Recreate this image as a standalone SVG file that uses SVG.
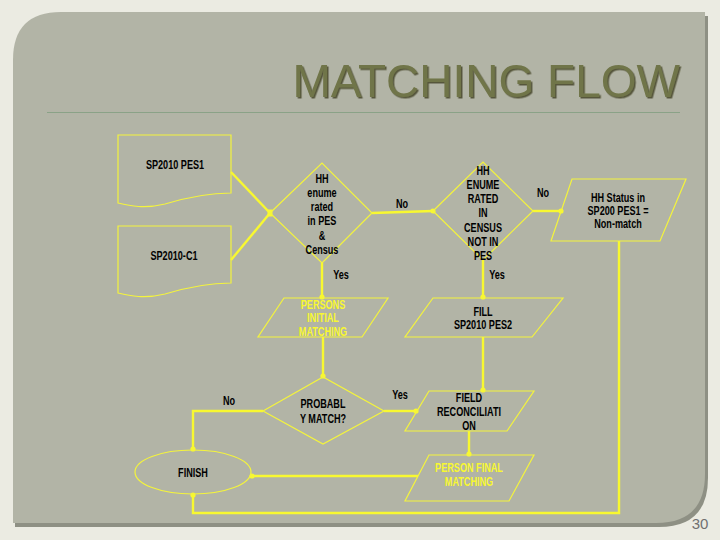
<svg xmlns="http://www.w3.org/2000/svg" width="720" height="540" viewBox="0 0 720 540">
<defs>
<style>
.shape{fill:none;stroke:#f4f43c;stroke-width:1.2}
.conn{fill:none;stroke:#f8f830;stroke-width:2.4;stroke-linejoin:miter}
.t{font-family:'Liberation Sans',Arial,sans-serif;font-weight:bold;font-size:13px;fill:#000;text-anchor:middle}
.y{fill:#f8f830}
</style>
<filter id="sh" x="-5%" y="-20%" width="110%" height="140%">
<feDropShadow dx="1.5" dy="1.5" stdDeviation="0.6" flood-color="#3e4024" flood-opacity="0.8"/>
</filter>
<marker id="dot" viewBox="-3 -3 6 6" markerWidth="6" markerHeight="6" markerUnits="userSpaceOnUse" orient="auto">
<circle cx="0" cy="0" r="2.6" fill="#f8f830"/>
</marker>
</defs>
<rect x="0" y="0" width="720" height="540" fill="#ebebe2"/>
<path d="M15,62 Q15,16 61,16 H708 V478 Q708,527 659,527 H15 Z" fill="#8e9084"/>
<path d="M13,60 Q13,12 61,12 H705 V474 Q705,523 656,523 H13 Z" fill="#b2b4a6"/>
<text x="680" y="97" font-family="'Liberation Sans',Arial,sans-serif" font-size="46" fill="#707548" text-anchor="end" filter="url(#sh)">MATCHING FLOW</text>
<line x1="47" y1="112.5" x2="680" y2="112.5" stroke="#8aa287" stroke-width="1"/>
<text x="700" y="529" font-family="'Liberation Sans',Arial,sans-serif" font-size="15" fill="#707070" text-anchor="middle">30</text>

<g id="connectors">
<path class="conn" d="M231,172 L270,213"/>
<path class="conn" d="M231,260 L270,213"/>
<rect x="267.5" y="209.5" width="5" height="7" fill="#f8f830"/>
<path class="conn" d="M372,213 L433,211" marker-end="url(#dot)"/>
<path class="conn" d="M533,211 L561,211" marker-end="url(#dot)"/>
<path class="conn" d="M322,263 V297" marker-end="url(#dot)"/>
<path class="conn" d="M483,260 V297" marker-end="url(#dot)"/>
<path class="conn" d="M323,337 V376" marker-end="url(#dot)"/>
<path class="conn" d="M483,337 V390" marker-end="url(#dot)"/>
<path class="conn" d="M384,411 H416" marker-end="url(#dot)"/>
<path class="conn" d="M469,431 V454" marker-end="url(#dot)"/>
<path class="conn" d="M263,411 H193 V449" marker-end="url(#dot)"/>
<path class="conn" d="M418,476 H252" marker-end="url(#dot)"/>
<path class="conn" d="M619,241 V513 H193 V495" marker-end="url(#dot)"/>
<g transform="translate(402,0) scale(0.7,1) translate(-402,0)"><text class="t" x="402" y="208">No</text></g>
<g transform="translate(543,0) scale(0.7,1) translate(-543,0)"><text class="t" x="543" y="197">No</text></g>
<g transform="translate(341,0) scale(0.7,1) translate(-341,0)"><text class="t" x="341" y="279">Yes</text></g>
<g transform="translate(497,0) scale(0.7,1) translate(-497,0)"><text class="t" x="497" y="279">Yes</text></g>
<g transform="translate(229,0) scale(0.7,1) translate(-229,0)"><text class="t" x="229" y="405">No</text></g>
<g transform="translate(400,0) scale(0.7,1) translate(-400,0)"><text class="t" x="400" y="399">Yes</text></g>
</g>

<g id="doc1">
<path class="shape" d="M118,135 H231 V193 C205,193 185,198 165,204 C145,209 130,206 118,203 Z"/>
<g transform="translate(175,0) scale(0.7,1) translate(-175,0)"><text class="t" x="175" y="169">SP2010 PES1</text></g>
</g>
<g id="doc2">
<path class="shape" d="M118,226 H231 V283 C205,283 185,288 165,294 C145,299 130,296 118,293 Z"/>
<g transform="translate(174,0) scale(0.7,1) translate(-174,0)"><text class="t" x="174" y="260">SP2010-C1</text></g>
</g>
<g id="dec1">
<path class="shape" d="M270,213 L322,163 L372,213 L322,263 Z"/>
<g transform="translate(322,0) scale(0.7,1) translate(-322,0)">
<text class="t" x="322" y="183">HH</text>
<text class="t" x="322" y="197">enume</text>
<text class="t" x="322" y="211">rated</text>
<text class="t" x="322" y="225">in PES</text>
<text class="t" x="322" y="240">&amp;</text>
<text class="t" x="322" y="254">Census</text>
</g>
</g>
<g id="dec2">
<path class="shape" d="M433,211 L483,162 L533,211 L483,260 Z"/>
<g transform="translate(483,0) scale(0.7,1) translate(-483,0)">
<text class="t" x="483" y="175">HH</text>
<text class="t" x="483" y="189">ENUME</text>
<text class="t" x="483" y="203">RATED</text>
<text class="t" x="483" y="217">IN</text>
<text class="t" x="483" y="232">CENSUS</text>
<text class="t" x="483" y="246">NOT IN</text>
<text class="t" x="483" y="260">PES</text>
</g>
</g>
<g id="status">
<path class="shape" d="M572,179 H686 L660,241 H551 Z"/>
<g transform="translate(618,0) scale(0.7,1) translate(-618,0)">
<text class="t" x="618" y="202">HH Status in</text>
<text class="t" x="618" y="215">SP200 PES1 =</text>
<text class="t" x="618" y="228">Non-match</text>
</g>
</g>
<g id="persons-initial">
<path class="shape" d="M284,298 H388 L362,337 H258 Z"/>
<g transform="translate(323,0) scale(0.7,1) translate(-323,0)">
<text class="t y" x="323" y="309">PERSONS</text>
<text class="t y" x="323" y="322">INITIAL</text>
<text class="t y" x="323" y="336">MATCHING</text>
</g>
</g>
<g id="fill">
<path class="shape" d="M433,298 H563 L532,337 H405 Z"/>
<g transform="translate(483,0) scale(0.7,1) translate(-483,0)">
<text class="t" x="483" y="316">FILL</text>
<text class="t" x="483" y="329">SP2010 PES2</text>
</g>
</g>
<g id="dec3">
<path class="shape" d="M263,411 L323,377 L384,411 L323,444 Z"/>
<g transform="translate(323,0) scale(0.7,1) translate(-323,0)">
<text class="t" x="323" y="408">PROBABL</text>
<text class="t" x="323" y="423">Y MATCH?</text>
</g>
</g>
<g id="field">
<path class="shape" d="M429,391 H534 L507,431 H405 Z"/>
<g transform="translate(469,0) scale(0.7,1) translate(-469,0)">
<text class="t" x="469" y="402">FIELD</text>
<text class="t" x="469" y="416">RECONCILIATI</text>
<text class="t" x="469" y="430">ON</text>
</g>
</g>
<g id="person-final">
<path class="shape" d="M429,455 H534 L509,501 H405 Z"/>
<g transform="translate(469,0) scale(0.7,1) translate(-469,0)">
<text class="t y" x="469" y="472">PERSON FINAL</text>
<text class="t y" x="469" y="486">MATCHING</text>
</g>
</g>
<g id="finish">
<ellipse class="shape" cx="193" cy="472" rx="58" ry="22"/>
<g transform="translate(193,0) scale(0.7,1) translate(-193,0)"><text class="t" x="193" y="477">FINISH</text></g>
</g>
</svg>
